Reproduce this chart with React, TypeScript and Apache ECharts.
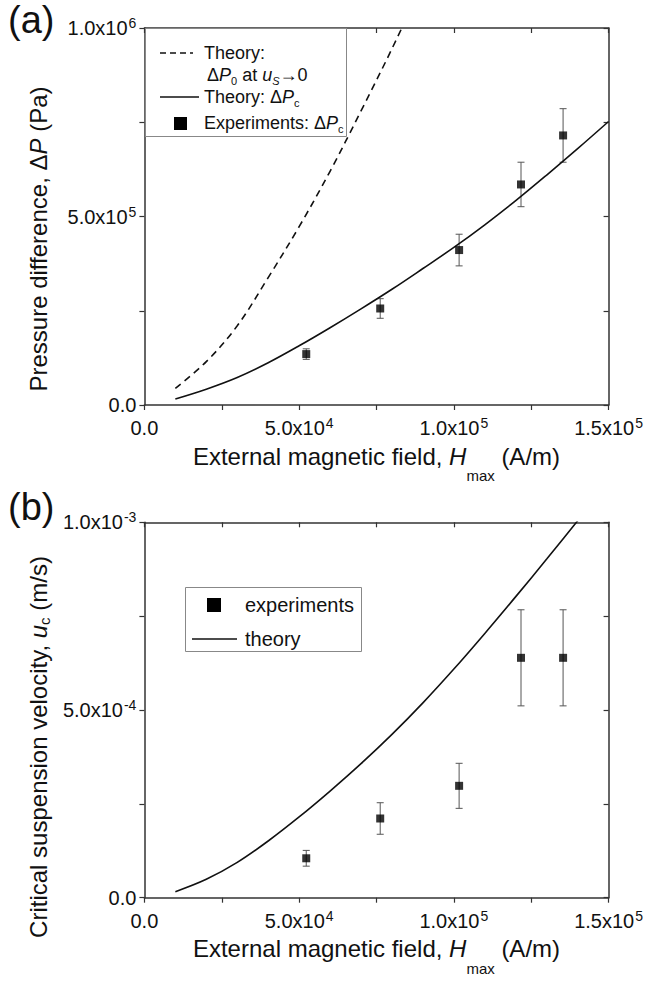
import React, { useEffect, useRef } from 'react';
import * as echarts from 'echarts';

// ---- Data ----
// Panel (a): pressure difference vs external magnetic field
const H_THEORY_C = [10000, 20000, 30000, 40000, 50000, 60000, 70000, 80000, 90000, 100000, 110000, 120000, 130000, 140000, 150000];
const DP_C_THEORY = [1.6e4, 4.2e4, 7.3e4, 1.12e5, 1.57e5, 2.05e5, 2.55e5, 3.07e5, 3.62e5, 4.18e5, 4.78e5, 5.42e5, 6.1e5, 6.8e5, 7.52e5];
const H_THEORY_0 = [10000, 20000, 30000, 40000, 50000, 60000, 70000, 80000, 90000];
const DP_0_THEORY = [4.4e4, 1.15e5, 2.1e5, 3.38e5, 4.73e5, 6.2e5, 7.8e5, 9.45e5, 1.12e6];
const H_EXP = [52300, 76200, 101700, 121700, 135300];
const DP_C_EXP = [1.35e5, 2.56e5, 4.11e5, 5.85e5, 7.15e5];
const DP_C_ERR = [1.4e4, 2.6e4, 4.2e4, 5.9e4, 7.1e4];

// Panel (b): critical suspension velocity vs external magnetic field
const H_THEORY_U = [10000, 20000, 30000, 40000, 50000, 60000, 70000, 80000, 90000, 100000, 110000, 120000, 130000, 140000, 150000];
const U_C_THEORY = [1.6e-5, 4.9e-5, 9.4e-5, 1.51e-4, 2.15e-4, 2.84e-4, 3.57e-4, 4.35e-4, 5.19e-4, 6.09e-4, 7.04e-4, 8.02e-4, 9.02e-4, 1.004e-3, 1.106e-3];
const U_C_EXP = [1.05e-4, 2.11e-4, 2.98e-4, 6.39e-4, 6.39e-4];
const U_C_ERR = [2.1e-5, 4.2e-5, 6.0e-5, 1.28e-4, 1.28e-4];

// Axis ranges / tick steps
const X_MIN = 0, X_MAX = 150000, X_STEP = 25000;
const YA_MIN = 0, YA_MAX = 1e6, YA_STEP = 2.5e5;
const YB_MIN = 0, YB_MAX = 1e-3, YB_STEP = 2.5e-4;

const FONT = '"Liberation Sans", Arial, Helvetica, sans-serif';
const INK = '#111';

function sci(v: number): string {
  if (Math.abs(v) < 1e-15) return '{m|0.0}';
  const exp = Math.floor(Math.log10(Math.abs(v)) + 1e-9);
  const mant = v / Math.pow(10, exp);
  return `{m|${mant.toFixed(1)}x10}{e|${exp}}`;
}

const tickRich = {
  m: { fontSize: 20, lineHeight: 24, fontFamily: FONT, color: INK },
  e: { fontSize: 14, lineHeight: 8, verticalAlign: 'top', fontFamily: FONT, color: INK, padding: [0, 0, 0, 1] },
};

// x-axis title: subscript "max" sits well below the baseline
const xTitleRich = {
  n: { fontSize: 24, lineHeight: 28, verticalAlign: 'top', fontFamily: FONT, color: INK },
  i: { fontSize: 24, lineHeight: 28, verticalAlign: 'top', fontFamily: FONT, fontStyle: 'italic', color: INK },
  s: { fontSize: 15, lineHeight: 39, verticalAlign: 'bottom', fontFamily: FONT, color: INK },
};

// y-axis titles (rotated)
const yTitleRich = {
  n: { fontSize: 24, lineHeight: 28, fontFamily: FONT, color: INK },
  i: { fontSize: 24, lineHeight: 28, fontFamily: FONT, fontStyle: 'italic', color: INK },
  s: { fontSize: 15, lineHeight: 10, verticalAlign: 'bottom', fontFamily: FONT, color: INK },
};

const legRich = (fs: number) => ({
  n: { fontSize: fs, lineHeight: fs + 4, fontFamily: FONT, color: INK },
  i: { fontSize: fs, lineHeight: fs + 4, fontFamily: FONT, fontStyle: 'italic', color: INK },
  s: { fontSize: Math.round(fs * 0.62), lineHeight: 4, verticalAlign: 'bottom', fontFamily: FONT, color: INK },
  si: { fontSize: Math.round(fs * 0.62), lineHeight: 4, verticalAlign: 'bottom', fontFamily: FONT, fontStyle: 'italic', color: INK },
});

const axisLine = { show: true, onZero: false, lineStyle: { color: '#333', width: 1.5 } };
const tickStyle = { color: '#333', width: 1.2 };

function xAxes(gridIndex: number) {
  return [
    {
      type: 'value', gridIndex, position: 'bottom', min: X_MIN, max: X_MAX, interval: X_STEP,
      axisLine, splitLine: { show: false },
      axisTick: { show: true, inside: false, length: 5, lineStyle: tickStyle },
      axisLabel: {
        show: true, margin: 11, rich: tickRich,
        formatter: (v: number) => (Math.round(v / X_STEP) % 2 ? '' : sci(v)),
      },
      name: '{n|External magnetic field, }{i|H}{s|max}{n| (A/m)}',
      nameLocation: 'middle', nameGap: 39,
      nameTextStyle: { rich: xTitleRich },
    },
    {
      type: 'value', gridIndex, position: 'top', min: X_MIN, max: X_MAX, interval: X_STEP,
      axisLine, splitLine: { show: false },
      axisTick: { show: true, inside: true, length: 5, lineStyle: tickStyle },
      axisLabel: { show: false },
    },
  ];
}

function yAxes(gridIndex: number, min: number, max: number, step: number) {
  return [
    {
      type: 'value', gridIndex, position: 'left', min, max, interval: step,
      axisLine, splitLine: { show: false },
      axisTick: { show: true, inside: false, length: 5, lineStyle: tickStyle },
      axisLabel: {
        show: true, margin: 8, rich: tickRich,
        formatter: (v: number) => (Math.round(v / step) % 2 ? '' : sci(v)),
      },
    },
    {
      type: 'value', gridIndex, position: 'right', min, max, interval: step,
      axisLine, splitLine: { show: false },
      axisTick: { show: true, inside: true, length: 5, lineStyle: tickStyle },
      axisLabel: { show: false },
    },
  ];
}

function errorBars(xIdx: number, yIdx: number, xs: number[], ys: number[], es: number[]) {
  return {
    type: 'custom', xAxisIndex: xIdx, yAxisIndex: yIdx, z: 3,
    data: xs.map((x, k) => [x, ys[k], es[k]]),
    encode: { x: 0, y: 1 },
    renderItem: (_p: any, api: any) => {
      const x = api.value(0), y = api.value(1), e = api.value(2);
      const t = api.coord([x, y + e]);
      const b = api.coord([x, y - e]);
      const w = 3.5;
      const st = { stroke: '#555', lineWidth: 1 };
      return {
        type: 'group',
        children: [
          { type: 'line', shape: { x1: t[0], y1: t[1], x2: b[0], y2: b[1] }, style: st },
          { type: 'line', shape: { x1: t[0] - w, y1: t[1], x2: t[0] + w, y2: t[1] }, style: st },
          { type: 'line', shape: { x1: b[0] - w, y1: b[1], x2: b[0] + w, y2: b[1] }, style: st },
        ],
      };
    },
  };
}

function txt(x: number, y: number, text: string, rich: any, align = 'left', rotation = 0) {
  return {
    type: 'text', x, y, z: 20, rotation,
    style: {
      text, rich, fill: INK, font: `18px ${FONT}`,
      align, verticalAlign: 'middle', textAlign: align, textVerticalAlign: 'middle',
    },
  };
}

function pairs(x: number[], y: number[]) {
  return x.map((h, k) => [h, y[k]]);
}

export default function App() {
  const ref = useRef<HTMLDivElement>(null);
  useEffect(() => {
    if (!ref.current) return;
    const chart = echarts.init(ref.current, undefined, { renderer: 'svg' });
    const la = legRich(18);
    const lb = legRich(20);
    const option: any = {
      animation: false,
      backgroundColor: '#fff',
      grid: [
        { left: 144.4, top: 28, width: 467.3, height: 377 },
        { left: 144.4, top: 522.3, width: 467.3, height: 375.4 },
      ],
      xAxis: [...xAxes(0), ...xAxes(1)],
      yAxis: [...yAxes(0, YA_MIN, YA_MAX, YA_STEP), ...yAxes(1, YB_MIN, YB_MAX, YB_STEP)],
      series: [
        {
          type: 'line', xAxisIndex: 0, yAxisIndex: 0, showSymbol: false, smooth: 0.35, clip: true,
          data: pairs(H_THEORY_0, DP_0_THEORY),
          lineStyle: { color: INK, width: 1.6, type: [7, 5] },
        },
        {
          type: 'line', xAxisIndex: 0, yAxisIndex: 0, showSymbol: false, smooth: 0.35, clip: true,
          data: pairs(H_THEORY_C, DP_C_THEORY),
          lineStyle: { color: INK, width: 1.6 },
        },
        errorBars(0, 0, H_EXP, DP_C_EXP, DP_C_ERR),
        {
          type: 'scatter', xAxisIndex: 0, yAxisIndex: 0, symbol: 'rect', symbolSize: 8, z: 4,
          data: pairs(H_EXP, DP_C_EXP),
          itemStyle: { color: '#000' },
        },
        {
          type: 'line', xAxisIndex: 2, yAxisIndex: 2, showSymbol: false, smooth: 0.35, clip: true,
          data: pairs(H_THEORY_U, U_C_THEORY),
          lineStyle: { color: INK, width: 1.6 },
        },
        errorBars(2, 2, H_EXP, U_C_EXP, U_C_ERR),
        {
          type: 'scatter', xAxisIndex: 2, yAxisIndex: 2, symbol: 'rect', symbolSize: 8, z: 4,
          data: pairs(H_EXP, U_C_EXP),
          itemStyle: { color: '#000' },
        },
      ],
      graphic: [
        // panel labels
        { type: 'text', x: 8, y: 1, z: 20, style: { text: '(a)', font: `38px ${FONT}`, fill: INK, verticalAlign: 'top', textVerticalAlign: 'top' } },
        { type: 'text', x: 8, y: 488, z: 20, style: { text: '(b)', font: `38px ${FONT}`, fill: INK, verticalAlign: 'top', textVerticalAlign: 'top' } },
        // y-axis titles
        txt(38, 239, '{n|Pressure difference, Δ}{i|P}{n| (Pa)}', yTitleRich, 'center', Math.PI / 2),
        txt(38, 747, '{n|Critical suspension velocity, }{i|u}{s|c}{n| (m/s)}', yTitleRich, 'center', Math.PI / 2),
        // legend (a)
        { type: 'rect', z: 15, shape: { x: 145.5, y: 28.5, width: 201, height: 108 }, style: { fill: '#fff', stroke: '#888', lineWidth: 1 } },
        { type: 'line', z: 20, shape: { x1: 160, y1: 53, x2: 193, y2: 53 }, style: { stroke: INK, lineWidth: 1.6, lineDash: [6, 4] } },
        txt(204, 53, '{n|Theory:}', la),
        txt(207, 75, '{n|Δ}{i|P}{s|0}{n| at }{i|u}{si|S}{n|→0}', la),
        { type: 'line', z: 20, shape: { x1: 160, y1: 97, x2: 199, y2: 97 }, style: { stroke: INK, lineWidth: 1.6 } },
        txt(204, 97, '{n|Theory: Δ}{i|P}{s|c}', la),
        { type: 'rect', z: 20, shape: { x: 174, y: 117, width: 13, height: 13 }, style: { fill: '#000' } },
        txt(204, 123, '{n|Experiments: Δ}{i|P}{s|c}', la),
        // legend (b)
        { type: 'rect', z: 15, shape: { x: 185.5, y: 587.5, width: 176, height: 64 }, style: { fill: '#fff', stroke: '#888', lineWidth: 1 } },
        { type: 'rect', z: 20, shape: { x: 207, y: 598, width: 14, height: 14 }, style: { fill: '#000' } },
        txt(245, 605, '{n|experiments}', lb),
        { type: 'line', z: 20, shape: { x1: 192, y1: 639, x2: 237, y2: 639 }, style: { stroke: INK, lineWidth: 1.6 } },
        txt(245, 639, '{n|theory}', lb),
      ],
    };
    chart.setOption(option);
    return () => chart.dispose();
  }, []);
  return <div ref={ref} style={{ position: 'absolute', left: 0, top: 0, width: 646, height: 983 }} />;
}
